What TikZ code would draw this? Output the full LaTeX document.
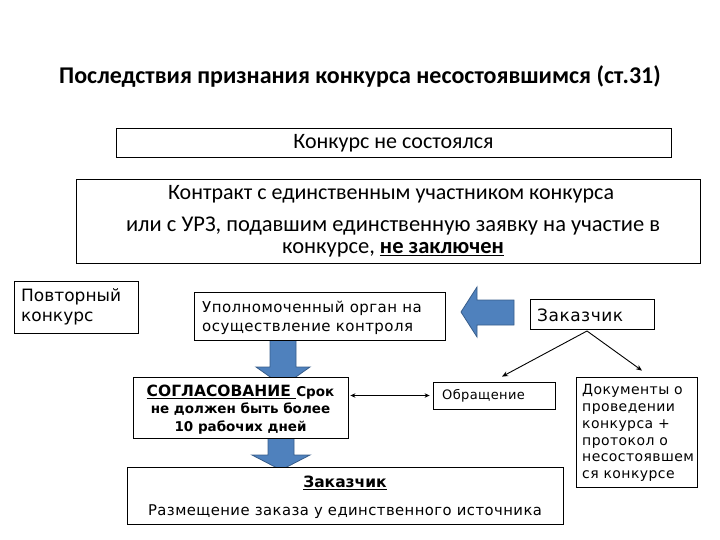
\documentclass[tikz,border=0pt]{standalone}
\usepackage{fontspec}
\usetikzlibrary{arrows.meta}
\setmainfont{Carlito}
\newfontfamily\vd[LetterSpace=3]{DejaVu Sans}
\newfontfamily\vdb{DejaVu Sans}
\definecolor{arrfill}{RGB}{79,129,189}
\definecolor{arrdraw}{RGB}{56,93,138}
\begin{document}
\begin{tikzpicture}[x=1pt,y=-1pt,
  box/.style={draw=black, line width=0.8pt, fill=white, inner sep=0pt},
  txt/.style={inner sep=0pt},
  blockarrow/.style={fill=arrfill, draw=arrdraw, line width=0.8pt},
  conn/.style={line width=0.9pt, -{Stealth[length=6pt,width=5pt]}}]
\useasboundingbox (0,0) rectangle (720,540);

% title
\node[txt, font=\fontsize{24}{28}\selectfont\bfseries] (title) at (360,77)
  {Последствия признания конкурса несостоявшимся (ст.31)};

% box 1
\node[box, minimum width=555pt, minimum height=29pt] (b1) at (393.5,142.5) {};
\node[txt, font=\fontsize{22}{25}\selectfont] (b1t) at (393.5,143) {Конкурс не состоялся};

% box 2
\node[box, minimum width=624pt, minimum height=84pt] (b2) at (388,221) {};
\node[txt, font=\fontsize{22}{25}\selectfont] (b2a) at (391,194)
  {Контракт с единственным участником конкурса};
\node[txt, align=center, font=\fontsize{22.5}{22}\selectfont] (b2b) at (393,237)
  {или с УРЗ, подавшим единственную заявку на участие в\\
   конкурсе, \textbf{\underline{не заключен}}};

% blue arrows (drawn before boxes so that the boxes cover their tips)
\draw[blockarrow] (270,340) -- (296,340) -- (296,367) -- (310,367) -- (283,386)
  -- (256,367) -- (270,367) -- cycle;
\draw[blockarrow] (268,438) -- (294,438) -- (294,455) -- (310,455) -- (281,470)
  -- (252,455) -- (268,455) -- cycle;
\draw[blockarrow] (461,312) -- (477,287) -- (477,300) -- (514,300) -- (514,325)
  -- (477,325) -- (477,337) -- cycle;

% Повторный конкурс
\node[box, minimum width=124pt, minimum height=52pt] (povt) at (76,307) {};
\node[txt, anchor=west, align=left, font=\vdb\fontsize{17}{20}\selectfont] (povtt) at (21,307)
  {Повторный\\конкурс};

% Уполномоченный орган
\node[box, minimum width=251pt, minimum height=48pt] (upol) at (319.5,316) {};
\node[txt, anchor=west, align=left, font=\vd\fontsize{15}{19}\selectfont] (upolt) at (202,317.5)
  {Уполномоченный орган на\\осуществление контроля};

% Заказчик
\node[box, minimum width=124pt, minimum height=30pt] (zak) at (592,314) {};
\node[txt, anchor=west, font=\vd\fontsize{17}{20}\selectfont] (zakt) at (537,315) {Заказчик};

% СОГЛАСОВАНИЕ
\node[box, minimum width=215pt, minimum height=61pt] (sogl) at (240.5,407.5) {};
\node[txt, align=center, font=\vdb\bfseries\fontsize{13.5}{17.5}\selectfont] (soglt) at (240.5,409.5)
  {{\fontsize{15.5}{17.5}\selectfont\underline{СОГЛАСОВАНИЕ\ }}Срок\\не должен быть более\\10 рабочих дней};

% Обращение
\node[box, minimum width=122pt, minimum height=27pt] (obr) at (494,395.5) {};
\node[txt, anchor=west, font=\vd\fontsize{13}{16}\selectfont] (obrt) at (442,396) {Обращение};

% Документы
\node[box, minimum width=121pt, minimum height=110pt] (docs) at (636.5,432) {};
\node[txt, anchor=west, align=left, font=\vd\fontsize{14}{16.8}\selectfont] (docst) at (582,433)
  {Документы о\\проведении\\конкурса +\\протокол о\\несостоявшем\\ся конкурсе};

% bottom box
\node[box, minimum width=436pt, minimum height=57pt] (bot) at (345,495.5) {};
\node[txt, font=\vdb\bfseries\fontsize{15.5}{17}\selectfont] (bota) at (345,483) {\underline{Заказчик}};
\node[txt, font=\vd\fontsize{14.8}{17}\selectfont] (botb) at (345,512)
  {Размещение заказа у единственного источника};

% connectors
\coordinate (zs) at (587,331);
\draw[conn] (zs) -- ([xshift=8pt,yshift=5pt]obr.north);
\draw[conn] (zs) -- ([xshift=5.5pt,yshift=6pt]docs.north);
\draw[line width=0.9pt, {Stealth[length=5pt,width=4.5pt]}-{Stealth[length=5pt,width=4.5pt]}]
  ([xshift=2pt]sogl.east |- obr.west) -- ([xshift=-3pt]obr.west);
\end{tikzpicture}
\end{document}
